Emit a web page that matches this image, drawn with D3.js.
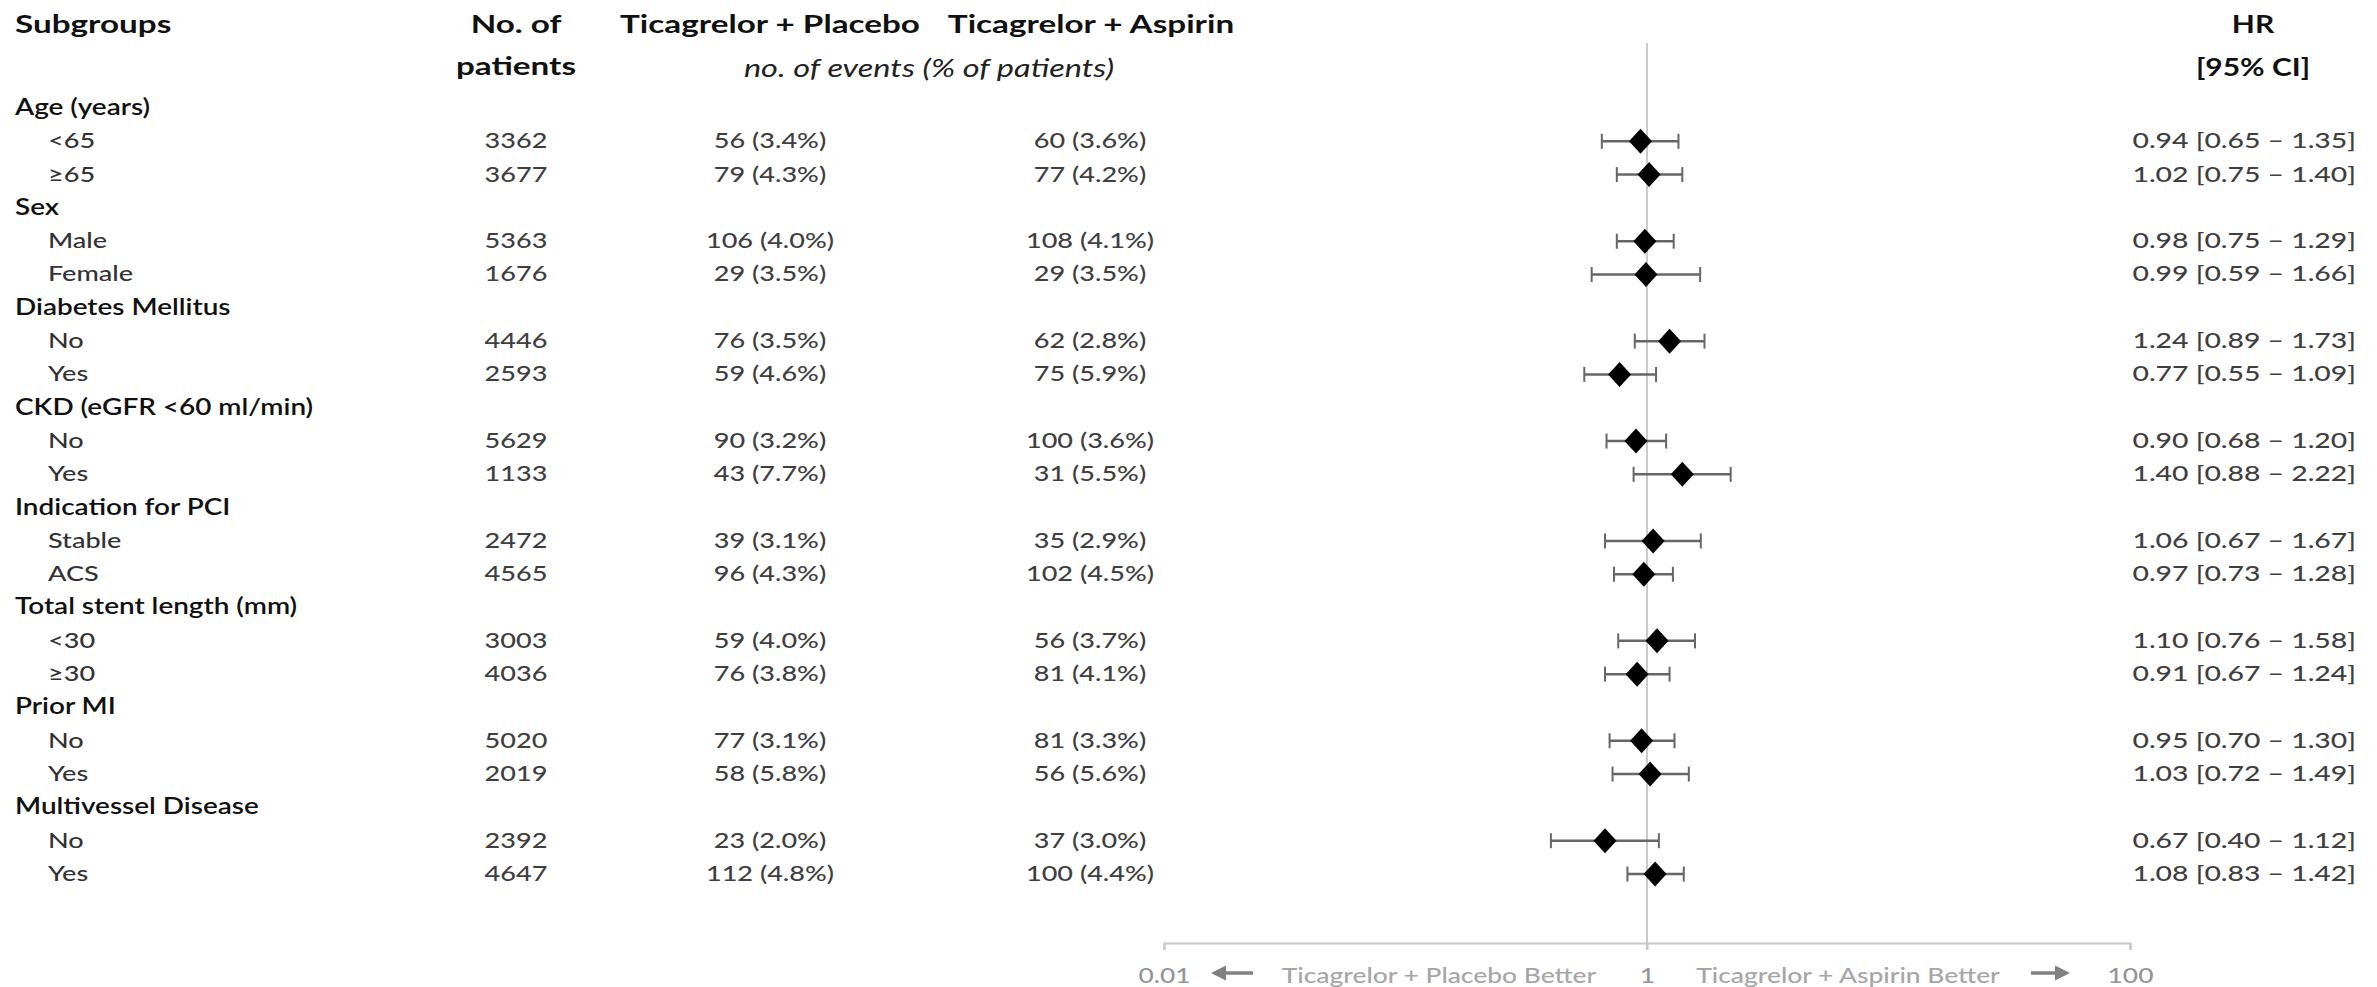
<!DOCTYPE html>
<html>
<head>
<meta charset="utf-8">
<script src="https://cdn.jsdelivr.net/npm/d3@7"></script>
<style>
  html, body { margin: 0; padding: 0; background: #ffffff; }
  svg { display: block; }
</style>
</head>
<body>
<svg id="chart" width="2377" height="987"></svg>
<script>
// ---- Data -------------------------------------------------------------
const groups = [
  "Age (years)", "Sex", "Diabetes Mellitus", "CKD (eGFR <60 ml/min)",
  "Indication for PCI", "Total stent length (mm)", "Prior MI", "Multivessel Disease"
];
const subgroups = [
  ["<65", "≥65"], ["Male", "Female"], ["No", "Yes"], ["No", "Yes"],
  ["Stable", "ACS"], ["<30", "≥30"], ["No", "Yes"], ["No", "Yes"]
];
const patients = [
  [3362, 3677], [5363, 1676], [4446, 2593], [5629, 1133],
  [2472, 4565], [3003, 4036], [5020, 2019], [2392, 4647]
];
const placeboEvents = [
  [56, 79], [106, 29], [76, 59], [90, 43], [39, 96], [59, 76], [77, 58], [23, 112]
];
const placeboPct = [
  [3.4, 4.3], [4.0, 3.5], [3.5, 4.6], [3.2, 7.7], [3.1, 4.3], [4.0, 3.8], [3.1, 5.8], [2.0, 4.8]
];
const aspirinEvents = [
  [60, 77], [108, 29], [62, 75], [100, 31], [35, 102], [56, 81], [81, 56], [37, 100]
];
const aspirinPct = [
  [3.6, 4.2], [4.1, 3.5], [2.8, 5.9], [3.6, 5.5], [2.9, 4.5], [3.7, 4.1], [3.3, 5.6], [3.0, 4.4]
];
const hazardRatio = [
  [0.94, 1.02], [0.98, 0.99], [1.24, 0.77], [0.90, 1.40],
  [1.06, 0.97], [1.10, 0.91], [0.95, 1.03], [0.67, 1.08]
];
const ciLower = [
  [0.65, 0.75], [0.75, 0.59], [0.89, 0.55], [0.68, 0.88],
  [0.67, 0.73], [0.76, 0.67], [0.70, 0.72], [0.40, 0.83]
];
const ciUpper = [
  [1.35, 1.40], [1.29, 1.66], [1.73, 1.09], [1.20, 2.22],
  [1.67, 1.28], [1.58, 1.24], [1.30, 1.49], [1.12, 1.42]
];
const axisTicks = [0.01, 1, 100];
const axisTickLabels = ["0.01", "1", "100"];
const headers = {
  subgroups: "Subgroups",
  patients: ["No. of", "patients"],
  placebo: "Ticagrelor + Placebo",
  aspirin: "Ticagrelor + Aspirin",
  events: "no. of events (% of patients)",
  hr: ["HR", "[95% CI]"]
};
const favourLeft = "Ticagrelor + Placebo Better";
const favourRight = "Ticagrelor + Aspirin Better";

// ---- Rows -------------------------------------------------------------
const rows = [];
groups.forEach((g, gi) => {
  rows.push({ key: "g" + gi, type: "group", label: g });
  subgroups[gi].forEach((s, si) => {
    rows.push({
      key: "g" + gi + "s" + si, type: "sub", label: s,
      n: patients[gi][si],
      pe: placeboEvents[gi][si], pp: placeboPct[gi][si],
      ae: aspirinEvents[gi][si], ap: aspirinPct[gi][si],
      hr: hazardRatio[gi][si], lo: ciLower[gi][si], hi: ciUpper[gi][si]
    });
  });
});

// ---- Layout & scales -------------------------------------------------
const svg = d3.select("#chart");
const FONT = "Lato, 'Open Sans', 'DejaVu Sans', sans-serif";
const F = 22;               // body font size
const FH = 25;              // header font size
// horizontal stretch of the lettering, per text style
const SX = { body: 1.23, hr: 1.29, group: 1.27, head: 1.33, headHR: 1.2, italic: 1.3, axis: 1.2 };

const y = d3.scalePoint().domain(rows.map(r => r.key)).range([107, 873]);
const x = d3.scaleLog().domain([0.01, 100]).range([1164, 2130]);
const axisY = 943;
const refTop = 43;

const col = { label: 15, sublabel: 48, n: 516, placebo: 770, aspirin: 1090, hrRight: 2356, hrHead: 2253 };

function text(g, px, py, s, o = {}) {
  return g.append("text")
    .attr("transform", `translate(${px},${py}) scale(${o.sx || SX.body},1)`)
    .attr("text-anchor", o.anchor || "start")
    .attr("font-family", FONT)
    .attr("font-size", o.size || F)
    .attr("font-weight", o.weight || 500)
    .attr("font-style", o.style || "normal")
    .attr("fill", o.fill || "#3f3f3f")
    .text(s);
}

const fmt1 = d3.format(".1f");
const fmt2 = d3.format(".2f");
const base = v => v + 0.36 * F; // baseline for a row centre

// ---- Headers ----------------------------------------------------------
const head = svg.append("g");
const hb = { size: FH, weight: 700, fill: "#111", sx: SX.head };
text(head, col.label, 33, headers.subgroups, hb);
text(head, col.n, 33, headers.patients[0], { ...hb, anchor: "middle" });
text(head, col.n, 75, headers.patients[1], { ...hb, anchor: "middle" });
text(head, 770, 33, headers.placebo, { ...hb, anchor: "middle" });
text(head, 1091, 33, headers.aspirin, { ...hb, anchor: "middle" });
text(head, 929, 77, headers.events, { anchor: "middle", style: "italic", fill: "#222", size: 25, sx: SX.italic, weight: 400 });
text(head, col.hrHead, 33, headers.hr[0], { ...hb, anchor: "middle", sx: SX.headHR });
text(head, col.hrHead, 76, headers.hr[1], { ...hb, anchor: "middle", sx: SX.headHR });

// ---- Table text -------------------------------------------------------
const table = svg.append("g");
rows.forEach(r => {
  const cy = base(y(r.key));
  if (r.type === "group") {
    text(table, col.label, cy, r.label, { weight: 600, fill: "#111", sx: SX.group });
  } else {
    text(table, col.sublabel, cy, r.label, { fill: "#333" });
    text(table, col.n, cy, r.n, { anchor: "middle" });
    text(table, col.placebo, cy, `${r.pe} (${fmt1(r.pp)}%)`, { anchor: "middle" });
    text(table, col.aspirin, cy, `${r.ae} (${fmt1(r.ap)}%)`, { anchor: "middle" });
    text(table, col.hrRight, cy, `${fmt2(r.hr)} [${fmt2(r.lo)} – ${fmt2(r.hi)}]`, { anchor: "end", sx: SX.hr });
  }
});

// ---- Forest plot ------------------------------------------------------
const plot = svg.append("g");

// reference line at HR = 1
plot.append("line")
  .attr("x1", x(1)).attr("x2", x(1))
  .attr("y1", refTop).attr("y2", axisY + 7)
  .attr("stroke", "#bdbdbd").attr("stroke-width", 1.6);

// log axis
const axis = d3.axisBottom(x)
  .tickValues(axisTicks)
  .tickFormat((d, i) => axisTickLabels[i])
  .tickSizeInner(7).tickSizeOuter(7)
  .tickPadding(17);
const ax = plot.append("g").attr("transform", `translate(0,${axisY})`).call(axis);
ax.select(".domain").attr("stroke", "#c6c6c6").attr("stroke-width", 2);
ax.selectAll(".tick line").attr("stroke", "#c6c6c6").attr("stroke-width", 2);
ax.selectAll(".tick text")
  .attr("font-family", FONT).attr("font-size", F).attr("font-weight", 500).attr("fill", "#959595")
  .attr("transform", `scale(${SX.axis},1)`);

// favour labels and arrows
const labY = 983;
text(plot, 1439, labY, favourLeft, { anchor: "middle", fill: "#a6a6a6", sx: SX.axis });
text(plot, 1848, labY, favourRight, { anchor: "middle", fill: "#a6a6a6", sx: SX.axis });

function arrow(x0, x1, yc) {
  const dir = Math.sign(x1 - x0);
  const head = 15, hh = 7.5;
  plot.append("line")
    .attr("x1", x0).attr("x2", x1 - dir * head + dir * 1)
    .attr("y1", yc).attr("y2", yc)
    .attr("stroke", "#808080").attr("stroke-width", 3.5);
  plot.append("path")
    .attr("d", `M${x1},${yc} L${x1 - dir * head},${yc - hh} L${x1 - dir * head},${yc + hh} Z`)
    .attr("fill", "#808080");
}
arrow(1253, 1211, 973);
arrow(2031, 2070, 973);

// confidence intervals and point estimates
const subs = rows.filter(r => r.type === "sub");
const ci = plot.selectAll("g.ci").data(subs).join("g").attr("class", "ci");
const capH = 7.5;
ci.append("line")
  .attr("x1", d => x(d.lo)).attr("x2", d => x(d.hi))
  .attr("y1", d => y(d.key) + 1).attr("y2", d => y(d.key) + 1)
  .attr("stroke", "#666666").attr("stroke-width", 2.5);
ci.append("line")
  .attr("x1", d => x(d.lo)).attr("x2", d => x(d.lo))
  .attr("y1", d => y(d.key) + 1 - capH).attr("y2", d => y(d.key) + 1 + capH)
  .attr("stroke", "#666666").attr("stroke-width", 2);
ci.append("line")
  .attr("x1", d => x(d.hi)).attr("x2", d => x(d.hi))
  .attr("y1", d => y(d.key) + 1 - capH).attr("y2", d => y(d.key) + 1 + capH)
  .attr("stroke", "#666666").attr("stroke-width", 2);
ci.append("path")
  .attr("d", d => {
    const cx = x(d.hr), cy = y(d.key) + 1, w = 11.5, h = 12.5;
    return `M${cx - w},${cy} L${cx},${cy - h} L${cx + w},${cy} L${cx},${cy + h} Z`;
  })
  .attr("fill", "#000");
</script>
</body>
</html>
